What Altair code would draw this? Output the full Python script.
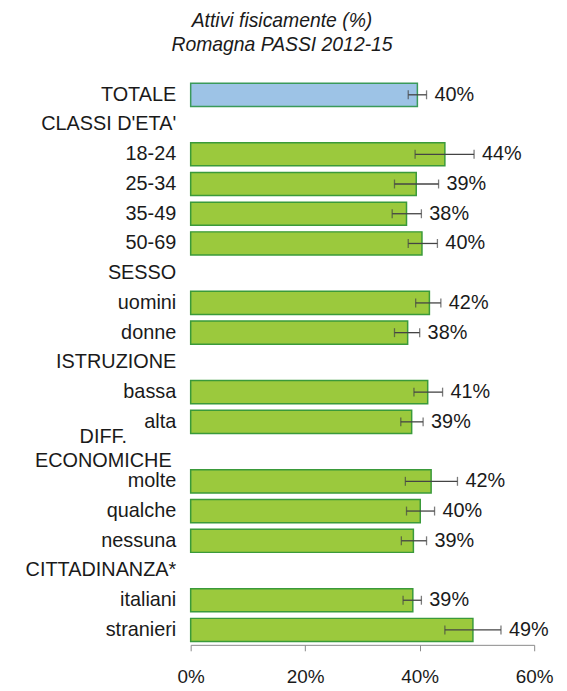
import altair as alt
import pandas as pd

rows = ["TOTALE", "CLASSI D'ETA'", "18-24", "25-34", "35-49", "50-69", "SESSO",
        "uomini", "donne", "ISTRUZIONE", "bassa", "alta", "DIFF. ECONOMICHE",
        "molte", "qualche", "nessuna", "CITTADINANZA*", "italiani", "stranieri"]
bar_rows = ["TOTALE", "18-24", "25-34", "35-49", "50-69", "uomini", "donne",
            "bassa", "alta", "molte", "qualche", "nessuna", "italiani", "stranieri"]
values = [39.6, 44.4, 39.4, 37.7, 40.4, 41.7, 37.9, 41.4, 38.6, 42.0, 40.1, 38.9, 38.8, 49.3]
ci_low = [38.0, 39.2, 35.6, 35.2, 38.0, 39.3, 35.6, 39.0, 36.7, 37.5, 37.7, 36.8, 37.1, 44.4]
ci_high = [41.2, 49.5, 43.3, 40.3, 43.1, 43.7, 40.0, 44.0, 40.6, 46.6, 42.6, 41.2, 40.3, 54.2]
kinds = ["tot"] + ["grp"] * 13
x_ticks = [0, 20, 40, 60]

df = pd.DataFrame({"row": bar_rows, "value": values, "lo": ci_low, "hi": ci_high, "kind": kinds})
df_hdr = pd.DataFrame({"row": ["DIFF. ECONOMICHE"], "l1": ["DIFF."], "l2": ["ECONOMICHE"]})

FONT = "Liberation Sans"
TXT = "#1a1a1a"

y_enc = alt.Y("row:N", sort=rows,
              scale=alt.Scale(domain=rows, paddingInner=0.22, paddingOuter=0.11),
              axis=alt.Axis(title=None, domain=False, ticks=False, labelPadding=15,
                            labelFontSize=20, labelFont=FONT, labelColor=TXT,
                            labelLimit=300, labelAlign="right",
                            labelExpr="datum.value == 'DIFF. ECONOMICHE' ? '' : datum.value"))
x_axis = alt.Axis(values=x_ticks, labelExpr="datum.value + '%'", grid=False, title=None,
                  domainColor="#8a8a8a", tickColor="#8a8a8a", tickSize=6, domainWidth=1,
                  labelFlush=False, labelFontSize=19, labelFont=FONT, labelColor=TXT,
                  labelPadding=17)
x_scale = alt.Scale(domain=[0, 60], nice=False)

base = alt.Chart(df)

bars = base.mark_bar(strokeWidth=1.5).encode(
    x=alt.X("value:Q", scale=x_scale, axis=x_axis),
    y=y_enc,
    fill=alt.Fill("kind:N", scale=alt.Scale(domain=["tot", "grp"], range=["#9DC3E6", "#9BC93D"]), legend=None),
    stroke=alt.Stroke("kind:N", scale=alt.Scale(domain=["tot", "grp"], range=["#3A9A5A", "#3A9A3A"]), legend=None),
)

err = base.mark_rule(color="#444444", strokeWidth=1.3).encode(
    x=alt.X("lo:Q", scale=x_scale, axis=x_axis), x2="hi:Q", y=y_enc)
cap_lo = base.mark_tick(color="#444444", size=9, thickness=1.3).encode(
    x=alt.X("lo:Q", scale=x_scale, axis=x_axis), y=y_enc)
cap_hi = base.mark_tick(color="#444444", size=9, thickness=1.3).encode(
    x=alt.X("hi:Q", scale=x_scale, axis=x_axis), y=y_enc)

labels = base.transform_calculate(
    lab="format(datum.value, '.0f') + '%'"
).mark_text(align="left", baseline="middle", dx=8, fontSize=20, font=FONT, color=TXT).encode(
    x=alt.X("hi:Q", scale=x_scale, axis=x_axis), y=y_enc, text="lab:N")

hdr_base = alt.Chart(df_hdr)
hdr1 = hdr_base.mark_text(align="center", baseline="middle", fontSize=20, font=FONT,
                          color=TXT, dy=-15).encode(x=alt.value(-88), y=y_enc, text="l1:N")
hdr2 = hdr_base.mark_text(align="center", baseline="middle", fontSize=20, font=FONT,
                          color=TXT, dy=10).encode(x=alt.value(-88), y=y_enc, text="l2:N")

chart = alt.layer(bars, err, cap_lo, cap_hi, labels, hdr1, hdr2).properties(
    width=346, height=569,
    title=alt.TitleParams(text=["Attivi fisicamente (%)", "Romagna PASSI 2012-15"],
                          fontSize=19.5, fontStyle="italic", fontWeight="normal", font=FONT,
                          color=TXT, anchor="middle", frame="group", dx=-81, offset=25,
                          lineHeight=24),
    autosize=alt.AutoSizeParams(type="none"),
    padding={"left": 184, "top": 70, "right": 25, "bottom": 40},
).configure_view(stroke=None)

chart.save("out.html", embed_options={"renderer": "svg", "actions": False})
